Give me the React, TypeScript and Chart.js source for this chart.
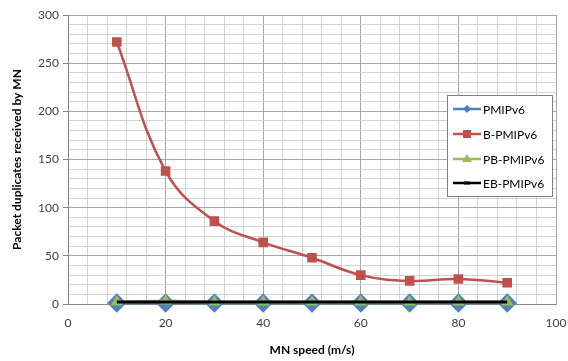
import React, { useEffect, useRef } from "react";
import { Chart, registerables } from "chart.js";

Chart.register(...registerables);

const speeds = [10, 20, 30, 40, 50, 60, 70, 80, 90];
const pmip = [1, 1, 1, 1, 1, 1, 1, 1, 1];
const bpmip = [272, 138, 86, 64, 48, 30, 24, 26, 22];
const pbpmip = [2, 3, 2, 2, 2, 2, 2, 2, 2];
const ebpmip = [2, 2, 2, 2, 2, 2, 2, 2, 2];
const seriesNames = ["PMIPv6", "B-PMIPv6", "PB-PMIPv6", "EB-PMIPv6"];
const seriesColors = ["#4F81BD", "#C0504D", "#9BBB59", "#000000"];

const FONT = "Lato, 'Noto Sans', sans-serif";

const toXY = (vals: number[]) => vals.map((v, i) => ({ x: speeds[i], y: v }));

const legendPlugin = {
  id: "boxLegend",
  afterDraw(chart: any) {
    const { ctx, chartArea } = chart;
    const left = chartArea.right - 109;
    const top = chartArea.top + 80;
    const w = 105;
    const h = 101;
    ctx.save();
    ctx.fillStyle = "#ffffff";
    ctx.fillRect(left, top, w, h);
    ctx.strokeStyle = "#7f7f7f";
    ctx.lineWidth = 1;
    ctx.strokeRect(left + 0.5, top + 0.5, w, h);
    ctx.font = `12px ${FONT}`;
    ctx.textBaseline = "middle";
    const rows = [top + 14, top + 39, top + 64, top + 88];
    seriesNames.forEach((name, i) => {
      const y = rows[i];
      const x0 = left + 6;
      const x1 = left + 34;
      const cx = (x0 + x1) / 2;
      ctx.strokeStyle = seriesColors[i];
      ctx.lineWidth = 2.5;
      ctx.beginPath();
      ctx.moveTo(x0, y);
      ctx.lineTo(x1, y);
      ctx.stroke();
      ctx.fillStyle = seriesColors[i];
      ctx.beginPath();
      if (i === 0) {
        ctx.moveTo(cx, y - 4);
        ctx.lineTo(cx + 4, y);
        ctx.lineTo(cx, y + 4);
        ctx.lineTo(cx - 4, y);
        ctx.closePath();
        ctx.fill();
      } else if (i === 1) {
        ctx.fillRect(cx - 4, y - 4, 8, 8);
      } else if (i === 2) {
        ctx.moveTo(cx, y - 5);
        ctx.lineTo(cx + 5, y + 3);
        ctx.lineTo(cx - 5, y + 3);
        ctx.closePath();
        ctx.fill();
      } else {
        ctx.fillRect(cx - 3, y - 1.5, 6, 3);
      }
      ctx.fillStyle = "#000000";
      ctx.textAlign = "left";
      ctx.fillText(name, x1 + 2, y + 1);
    });
    ctx.restore();
  },
};

export default function App() {
  const ref = useRef<HTMLCanvasElement | null>(null);
  useEffect(() => {
    if (!ref.current) return;
    const chart = new Chart(ref.current, {
      type: "line",
      data: {
        datasets: [
          {
            label: seriesNames[0],
            data: toXY(pmip),
            borderColor: seriesColors[0],
            backgroundColor: seriesColors[0],
            borderWidth: 2.5,
            pointStyle: "rectRot",
            pointRadius: 8,
            pointHoverRadius: 8,
            clip: false,
            order: 4,
          },
          {
            label: seriesNames[1],
            data: toXY(bpmip),
            borderColor: seriesColors[1],
            backgroundColor: seriesColors[1],
            borderWidth: 2.5,
            pointStyle: "rect",
            pointRadius: 5,
            tension: 0.4,
            clip: false,
            order: 3,
          },
          {
            label: seriesNames[2],
            data: toXY(pbpmip),
            borderColor: seriesColors[2],
            backgroundColor: seriesColors[2],
            borderWidth: 3,
            pointStyle: "triangle",
            pointRadius: 4,
            clip: false,
            order: 2,
          },
          {
            label: seriesNames[3],
            data: toXY(ebpmip),
            borderColor: seriesColors[3],
            backgroundColor: seriesColors[3],
            borderWidth: 3,
            pointRadius: 0,
            clip: false,
            order: 1,
          },
        ],
      },
      options: {
        animation: false,
        responsive: true,
        maintainAspectRatio: false,
        layout: { padding: { top: 15, right: 12, left: 0, bottom: 0 } },
        plugins: {
          legend: { display: false },
          tooltip: { enabled: false },
        },
        scales: {
          x: {
            type: "linear",
            min: 0,
            max: 100,
            afterFit: (s: any) => {
              s.height = 57;
              s.paddingRight = 0;
              s.paddingLeft = 0;
            },
            ticks: {
              stepSize: 4,
              autoSkip: false,
              maxRotation: 0,
              padding: 12,
              color: "#404040",
              font: { family: FONT, size: 12 },
              callback: (v: any) => (Number(v) % 20 === 0 ? String(v) : ""),
            },
            grid: {
              drawTicks: false,
              color: (c: any) =>
                c.tick && c.tick.value % 20 === 0 ? "#a6a6a6" : "#d4d4d4",
            },
            border: { color: "#868686" },
            title: {
              display: true,
              text: "MN speed (m/s)",
              color: "#000000",
              font: { family: FONT, size: 12, weight: "bold" },
              padding: { top: 0, bottom: 4 },
            },
          },
          y: {
            min: 0,
            max: 300,
            afterFit: (s: any) => {
              s.width = 68;
              s.paddingTop = 0;
              s.paddingBottom = 0;
            },
            ticks: {
              stepSize: 10,
              autoSkip: false,
              padding: 4,
              color: "#404040",
              font: { family: FONT, size: 12 },
              callback: (v: any) => (Number(v) % 50 === 0 ? String(v) : ""),
            },
            grid: {
              tickLength: 5,
              tickColor: (c: any) =>
                c.tick && c.tick.value % 50 === 0 ? "#868686" : "rgba(0,0,0,0)",
              color: (c: any) =>
                c.tick && c.tick.value % 50 === 0 ? "#a6a6a6" : "#d4d4d4",
            },
            border: { color: "#868686" },
            title: {
              display: true,
              text: "Packet duplicates received by MN",
              color: "#000000",
              font: { family: FONT, size: 12, weight: "bold" },
              padding: { top: 10, bottom: 0 },
            },
          },
        },
      },
      plugins: [legendPlugin],
    } as any);
    return () => chart.destroy();
  }, []);
  return (
    <div
      style={{
        position: "fixed",
        left: 0,
        top: 0,
        width: 568,
        height: 361,
        background: "#ffffff",
      }}
    >
      <canvas ref={ref} />
    </div>
  );
}
